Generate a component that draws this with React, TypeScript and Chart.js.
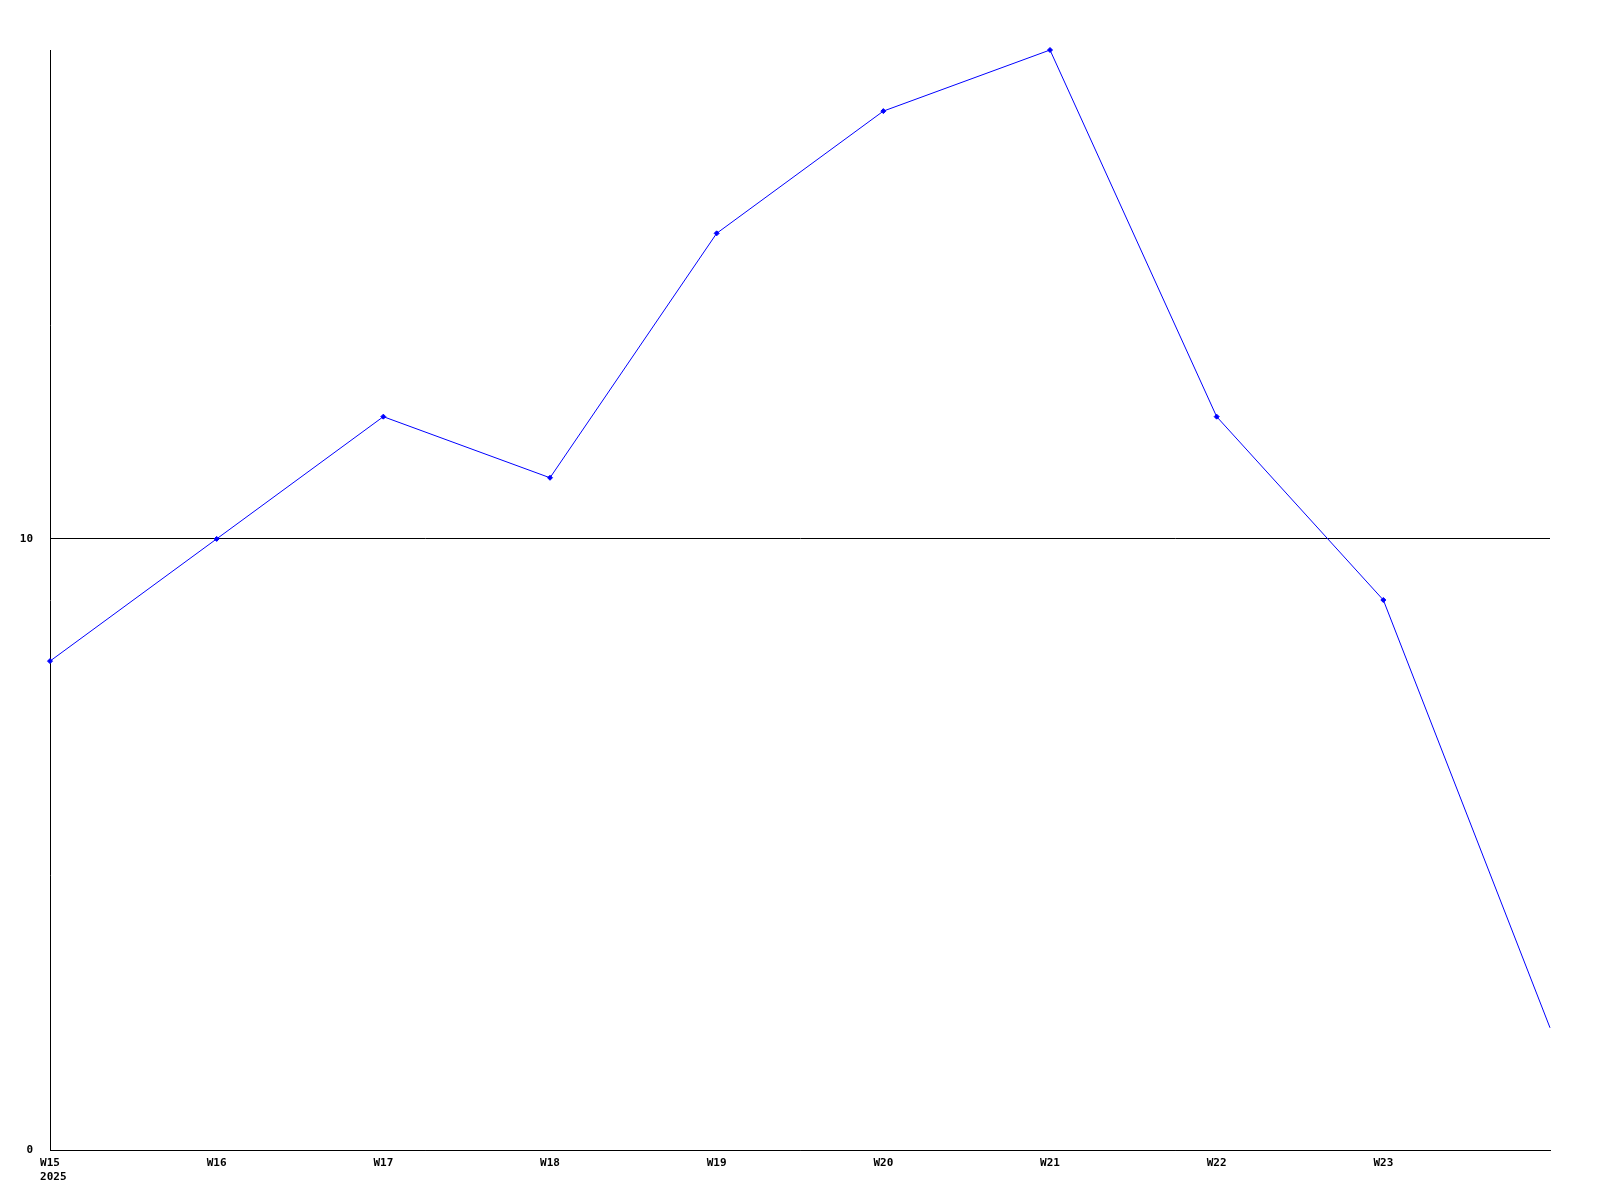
import React, { useEffect, useRef } from "react";
import { Chart, registerables } from "chart.js";

Chart.register(...registerables);

const weeks: (string | string[])[] = [["W15", " 2025"], "W16", "W17", "W18", "W19", "W20", "W21", "W22", "W23", ""];
const values: number[] = [8, 10, 12, 11, 15, 17, 18, 12, 9, 2];
const yTicks: number[] = [0, 10];
const yMax = 18;

export default function App() {
  const ref = useRef<HTMLCanvasElement | null>(null);
  useEffect(() => {
    if (!ref.current) return;
    const font = { family: "'DejaVu Sans Mono', monospace", size: 11, weight: "bold" as const, lineHeight: "14px" };
    const chart = new Chart(ref.current, {
      type: "line",
      data: {
        labels: weeks,
        datasets: [
          {
            data: values,
            borderColor: "#0000ff",
            backgroundColor: "#0000ff",
            borderWidth: 1,
            pointStyle: "rectRot",
            pointRadius: values.map((_, i) => (i === values.length - 1 ? 0 : 2.5)),
            pointBorderWidth: 1,
            tension: 0,
            clip: false,
          } as any,
        ],
      },
      options: {
        animation: false,
        responsive: false,
        maintainAspectRatio: false,
        layout: { padding: { left: 0, top: 50, right: 50, bottom: 0 } },
        plugins: { legend: { display: false }, tooltip: { enabled: false } },
        scales: {
          x: {
            type: "category",
            offset: false,
            grid: { display: false, drawTicks: false },
            border: { display: true, color: "#000", width: 1 },
            ticks: { color: "#000", font, padding: 6, maxRotation: 0, autoSkip: false },
            afterFit: (s: any) => {
              s.height = 50;
            },
          },
          y: {
            min: 0,
            max: yMax,
            grid: { display: true, color: "#000", lineWidth: 1, drawTicks: false },
            border: { display: true, color: "#000", width: 1 },
            ticks: { color: "#000", font, padding: 17 },
            afterBuildTicks: (s: any) => {
              s.ticks = yTicks.map((v) => ({ value: v }));
            },
            afterFit: (s: any) => {
              s.width = 50;
            },
          },
        },
      },
    });
    return () => chart.destroy();
  }, []);
  return (
    <div style={{ position: "fixed", left: 0, top: 0, width: 1600, height: 1200, background: "#fff" }}>
      <canvas ref={ref} width={1600} height={1200} style={{ width: 1600, height: 1200, display: "block" }} />
    </div>
  );
}
